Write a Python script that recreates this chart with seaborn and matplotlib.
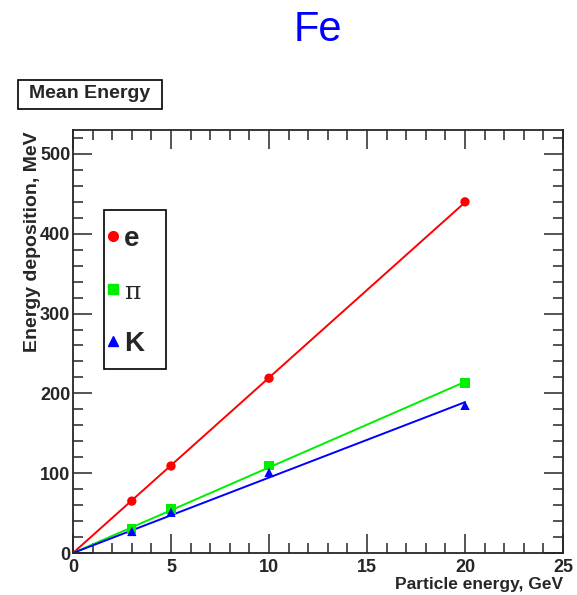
import numpy as np
import pandas as pd
import seaborn as sns
import matplotlib
matplotlib.use("Agg")
import matplotlib.pyplot as plt
from matplotlib.lines import Line2D
from matplotlib.patches import Rectangle
from matplotlib.ticker import MultipleLocator

# Beam energies (GeV) and mean energy deposition (MeV) in iron
energy = [3, 5, 10, 20]
dep_e = [65, 109, 219, 440]
dep_pi = [30, 55, 110, 213]
dep_k = [27, 51, 101, 185]

particles = ["e", "π", "K"]
colors = ["#ff0000", "#00ee00", "#0000ff"]
markers = ["o", "s", "^"]

sns.set_style("ticks")
plt.rcParams["font.family"] = ["Liberation Sans", "DejaVu Sans"]

rows = []
for name, vals in zip(particles, [dep_e, dep_pi, dep_k]):
    for x, y in zip(energy, vals):
        rows.append({"particle": name, "E": x, "dep": y})
df = pd.DataFrame(rows)

W, H = 577, 595
fig = plt.figure(figsize=(W / 100, H / 100), dpi=100)
ax = fig.add_axes([73 / W, 42 / H, 490 / W, 423 / H])

# straight-line fits through the origin
fit_rows = []
for name, vals in zip(particles, [dep_e, dep_pi, dep_k]):
    x = np.array(energy, float)
    y = np.array(vals, float)
    slope = (x * y).sum() / (x * x).sum()
    for xf in (0.0, 20.0):
        fit_rows.append({"particle": name, "E": xf, "dep": slope * xf})
fit = pd.DataFrame(fit_rows)

sns.lineplot(data=fit, x="E", y="dep", hue="particle", palette=colors,
             hue_order=particles, lw=1.4, legend=False, ax=ax)
for name, c, m in zip(particles, colors, markers):
    sns.scatterplot(data=df[df.particle == name], x="E", y="dep", color=c,
                    marker=m, s=45, edgecolor="none", legend=False, ax=ax, zorder=3)

ax.set_xlim(0, 25)
ax.set_ylim(0, 530)
ax.xaxis.set_major_locator(MultipleLocator(5))
ax.xaxis.set_minor_locator(MultipleLocator(1))
ax.yaxis.set_major_locator(MultipleLocator(100))
ax.yaxis.set_minor_locator(MultipleLocator(20))
ax.tick_params(which="both", direction="in", top=True, right=True, width=1.1)
ax.tick_params(which="major", length=14, labelsize=13, pad=2)
ax.tick_params(axis="x", which="major", pad=4)
ax.tick_params(which="minor", length=7)
for s in ax.spines.values():
    s.set_linewidth(1.3)
    s.set_visible(True)
for lab in ax.get_xticklabels() + ax.get_yticklabels():
    lab.set_fontweight("bold")
ax.set_xlabel("")
ax.set_ylabel("")

fig.text(563 / W, 1 - 585 / H, "Particle energy, GeV", ha="right", va="center",
         fontsize=12.5, fontweight="bold")
fig.text(33 / W, 1 - 131 / H, "Energy deposition, MeV", ha="center", va="top",
         rotation=90, fontsize=14, fontweight="bold")

fig.text(318 / W, 1 - 30 / H, "Fe", ha="center", va="center", fontsize=30,
         color="#0000ff")

# boxed header
fig.add_artist(Rectangle((18 / W, 1 - 109 / H), 144 / W, 29 / H,
                         transform=fig.transFigure, fc="white", ec="black", lw=1.2))
fig.text(90 / W, 1 - 94 / H, "Mean Energy", ha="center", va="center",
         fontsize=14, fontweight="bold")

# legend with a hand-sized frame
frame = Rectangle((104 / W, 1 - 369 / H), 62 / W, 159 / H,
                  transform=fig.transFigure, fc="white", ec="black",
                  lw=1.2, zorder=4, clip_on=False)
ax.add_artist(frame)
handles = [Line2D([], [], ls="none", marker=m, color=c, markersize=7)
           for m, c in zip(markers, colors)]
leg = ax.legend(handles, particles, loc="upper left",
                bbox_to_anchor=(107 / W, 1 - 226 / H),
                bbox_transform=fig.transFigure, frameon=False,
                handlelength=0.4, handletextpad=0.2, labelspacing=0.98,
                borderpad=0, borderaxespad=0, prop={"size": 20})
leg.set_zorder(5)
for t in leg.get_texts():
    if t.get_text() == "π":
        t.set_family(["DejaVu Serif"])
        t.set_fontsize(18)
    else:
        t.set_fontweight("bold")

fig.savefig("out.png", dpi=100, facecolor="white")
